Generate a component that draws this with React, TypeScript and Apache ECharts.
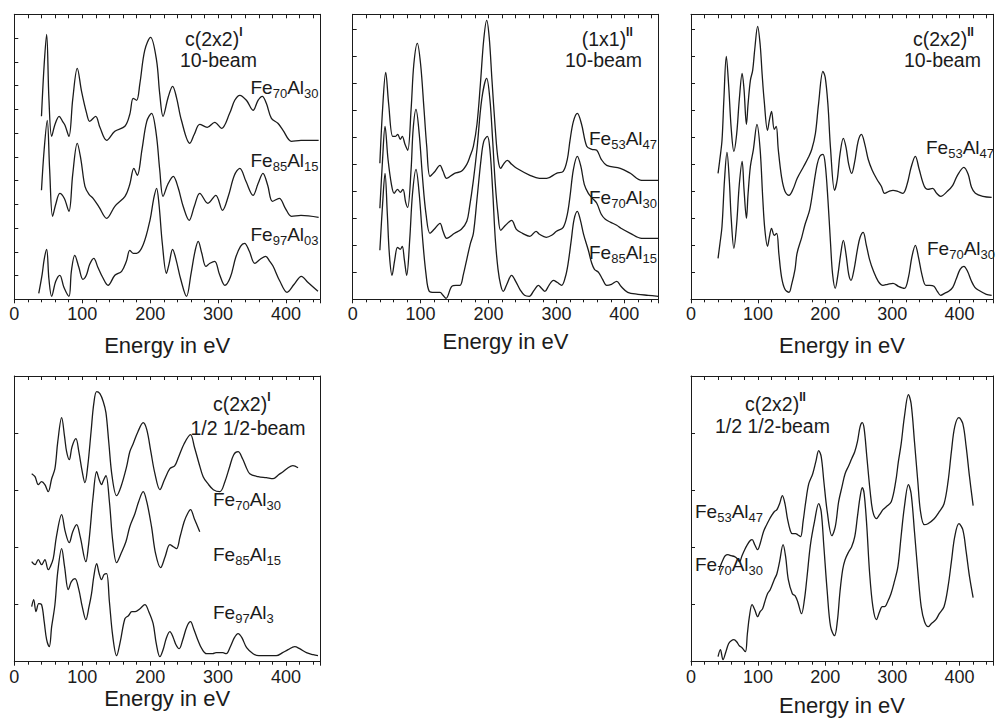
import React, { useEffect, useRef } from "react";
import * as echarts from "echarts";

// ---------- data: LEED I(V) curves, energy in eV vs intensity (arb. units, offset) ----------
const xTicks = [0, 100, 200, 300, 400];

// panel 1: c(2x2)^I, 10-beam
const p1Fe70Al30 = [[40,183],[44,235],[47.6,265],[51,200],[55,163],[60,175],[66,183],[71,178],[74.6,174],[80.4,163],[86,200],[92.7,231],[99,208],[106.5,186],[111,178],[119.7,183],[126,172],[135.9,159],[148,168],[162.8,173],[170,185],[175,201],[180,199],[184.9,216],[192,249],[200.6,262],[209.4,239],[214,206],[219,183],[226.5,202],[233,213],[238.7,202],[246,179],[258.4,156],[265,165],[273,175],[284,172],[295,177],[305,171],[317,186],[324.5,199],[332,204],[341.7,199],[351.5,189],[358.8,199],[365,203],[371,196],[378.5,181],[388,176],[395.6,169],[408,158],[422,159],[448,159]];
const p1Fe85Al15 = [[40,109],[44,150],[48.5,179],[52,130],[56.4,83],[61,95],[67,106],[73.5,101],[80.4,88],[86,125],[92.7,156],[98,140],[104,113],[110,105],[116,101],[125,92],[136,81],[148,93],[163,103],[170,115],[176,131],[181,124],[188,150],[195,178],[202,186],[209,165],[214,130],[219,103],[226,115],[234,123],[241,112],[249,92],[257.4,79],[265,93],[273,106],[285,96],[296.6,104],[306.5,89],[315,103],[324,124],[332,131],[341,118],[351.5,104],[359,116],[366,126],[373,114],[380,98],[390,101],[399,91],[408,83],[422,84],[448,82]];
const p1Fe97Al03 = [[36,6],[41,25],[44,40],[47.6,50],[51,20],[55,3],[61,18],[67,24],[73,12],[80.4,3],[84,28],[89,44],[95,32],[101,20],[106,24],[111,35],[117,41],[123,32],[130,22],[138,14],[148,24],[158,28],[165,38],[170,49],[175,46],[180,46],[190,55],[200,80],[205,100],[209.4,111],[213,95],[218,55],[224,26],[228,36],[233,50],[238,40],[245,20],[253.5,3],[260,25],[266,48],[270.7,58],[276,46],[282,33],[288,36],[295,38],[302,25],[310,14],[318,22],[326,42],[333,53],[339,56],[346,48],[354,36],[362,40],[370,43],[376,38],[381,33],[391,18],[401.5,7],[412,15],[422.6,23],[432,17],[447,8]];

// panel 2: (1x1)^II, 10-beam
const p2Fe53Al47 = [[40,136],[44,190],[48.6,227],[53,195],[58.9,163],[63,163],[66.3,165],[70,160],[73,163],[77,155],[81,149],[86,190],[90,235],[95.2,256],[100,235],[105,190],[109,153],[113.8,123],[120,127],[128.6,134],[133,128],[138.4,121],[150,126],[160,128],[168,135],[172.8,143],[177.7,153],[183,175],[188,215],[193,260],[197.3,279],[201,262],[205,220],[210,170],[214,140],[218,131],[222,135],[227.7,139],[234,135],[241.5,131],[261,124],[275,121],[285.7,121],[300,126],[310,128],[316,140],[320,159],[325,178],[330.8,186],[337,175],[344.6,153],[352,150],[359.4,149],[366,140],[374,134],[394,131],[408.8,126],[425.6,119],[450,119]];
const p2Fe70Al30 = [[40,91],[44,140],[47.6,173],[52,140],[57,115],[61,106],[66,110],[70,107],[74,110],[78,97],[81,92],[86,130],[89,170],[93.2,190],[98,165],[103,120],[108,85],[113.8,66],[120,70],[128.6,76],[133,68],[138.4,61],[150,66],[160,70],[168,78],[172,92],[177.7,119],[183,150],[190,200],[197.3,221],[202,200],[206,160],[210,115],[214,85],[218,69],[225,74],[234,79],[241,70],[250,66],[261,63],[270,68],[275,65],[285,62],[293,64],[300,68],[310,72],[316,85],[320,103],[325,130],[330.8,143],[336,133],[341,115],[347,106],[353,101],[359.4,96],[366,85],[372,80],[380,77],[388.8,74],[395,71],[408.8,66],[425.6,61],[450,61]];
const p2Fe85Al15 = [[40,49],[44,95],[47.6,126],[51,85],[54,45],[57.9,24],[62,40],[66,52],[70,50],[73,53],[76,40],[79.5,24],[84,60],[88,105],[93.2,130],[98,105],[103,60],[108,25],[112.8,8],[120,7],[128.6,7],[133,4],[137.4,1],[145.8,13],[152,14],[158,14],[163,25],[168,40],[173,55],[177.7,66],[183,100],[189,140],[193,158],[198.3,163],[202,150],[206,110],[210,60],[214,30],[218,14],[221.8,8],[227,15],[234,24],[240,18],[247,9],[253,4],[260,3],[267,9],[273.4,14],[278,11],[283,8],[289,14],[295.5,19],[301,17],[307.7,14],[313,22],[317,35],[322,60],[326,80],[330.8,88],[335,80],[340,65],[347,49],[352,36],[356,30],[362,27],[368,20],[374,14],[381,15],[388.8,18],[395,13],[405,7],[420,5],[435,4],[450,3]];

// panel 3: c(2x2)^II, 10-beam
const p3Fe53Al47 = [[40.3,126],[43,140],[46.2,159],[49,200],[52.6,243],[56,215],[60,170],[63.9,148],[68,165],[72,200],[76.2,226],[79,210],[82.6,175],[85,195],[88.5,219],[91.9,229],[95,250],[99.3,273],[103,255],[106,225],[109,199],[114,169],[117,180],[120,188],[124,170],[127,173],[130,150],[135,122],[140,108],[146,104],[152,110],[158.3,121],[168,133],[175,142],[180,150],[185.4,166],[190,195],[196.6,228],[200,222],[204,195],[208,150],[213.9,109],[218,120],[222,145],[227,161],[231,152],[235,135],[239.4,126],[244,138],[249,158],[254,165],[259,155],[264,140],[270,129],[277,120],[283.6,113],[288.5,106],[295,108],[301,109],[308,108],[315.7,106],[322,115],[328,132],[334.3,143],[340,130],[347.6,113],[353,110],[360,111],[366,106],[372,103],[382,108],[390,114],[397,124],[406.6,132],[413,125],[418,112],[423.7,106],[435,103],[448,102]];
const p3Fe70Al30 = [[40.3,41],[43,55],[46.2,73],[50,120],[53.6,147],[57,120],[60,80],[63.9,51],[68,75],[72,115],[76.2,138],[79,110],[82.6,81],[85,105],[88.5,133],[93,150],[98.3,175],[103,150],[107,100],[110,70],[114,53],[117,63],[120,71],[124,64],[127.7,66],[131,45],[135,22],[140,10],[146,7],[150,15],[155,30],[158,46],[165,62],[170,75],[177,90],[183,115],[188,135],[192,143],[196.6,145],[200,135],[204,100],[208,55],[211,25],[214.9,11],[219,25],[223,45],[227,59],[231,45],[235,25],[238.5,19],[243,30],[248,50],[252,62],[256.6,67],[261,55],[266,40],[272,28],[279,18],[286,14],[293,15],[301,16],[309,13],[318,11],[324,22],[329,42],[334.3,54],[339,42],[344,25],[350,14],[356,14],[362,13],[367,8],[372,4],[378,6],[384,8],[390,12],[395,20],[401,30],[406.6,33],[412,28],[418,18],[423,12],[428.7,9],[440,5],[448,4]];

// panel 4: c(2x2)^I, 1/2 1/2-beam
const p4Fe70Al30 = [[25.6,188],[30.5,185],[35.3,177],[40.2,180],[45,177],[50,170],[55,183],[59.8,193],[64,220],[69.7,244],[74,225],[77,210],[80.9,202],[85,215],[90.7,223],[95,210],[100,190],[104,179],[108,195],[113,230],[117,258],[121.2,270],[126,268],[131,260],[134.9,249],[139,220],[144,185],[150.6,166],[157,175],[165.3,195],[170,210],[175,218],[182,230],[189.7,239],[195,232],[201,210],[207,188],[214.3,172],[221,182],[229,193],[236.3,196],[242,205],[250,218],[259.4,227],[265,215],[272,198],[278,185],[285,178],[293,172],[302.5,170],[310,180],[317,195],[323,207],[329.4,210],[336,203],[341,195],[346.6,188],[359,185],[371,184],[381,183],[389,187],[395.6,190],[403,194],[410,196],[417.7,194]];
const p4Fe85Al15 = [[25.6,100],[30.5,97],[35.3,102],[40.2,97],[45,102],[50,92],[53,95],[57.3,103],[62,125],[69.7,147],[75,130],[80.9,119],[86,130],[91.7,137],[97,125],[105.4,100],[109,115],[112,135],[116,165],[121.2,190],[125,182],[128.5,177],[131,181],[134.9,186],[140,160],[145,120],[150.6,99],[157,108],[164.3,120],[170,135],[177.5,148],[183,160],[189.7,170],[195,160],[202,135],[208,108],[215.3,94],[222,105],[229,117],[234,115],[238.8,113],[244,125],[250,140],[255,148],[259.4,152],[265,143],[273,130]];
const p4Fe97Al3 = [[25.6,55],[28.5,62],[32,50],[36,58],[40.2,57],[44,40],[47.6,22],[51.5,15],[55,35],[59.8,57],[64,90],[69.7,113],[74,95],[79.5,72],[84,80],[89.3,83],[95,72],[100,55],[105.4,42],[110,55],[113.7,68],[117,85],[121.2,98],[125,88],[128.5,82],[132,87],[135.9,88],[140,60],[145,25],[150.6,6],[156,20],[162.8,43],[168,46],[173,50],[178,50],[185,53],[192.2,57],[198,50],[204.4,38],[209,18],[214.3,5],[219,12],[224,24],[229,30],[234,24],[238,17],[242.7,13],[248,22],[254,35],[259.4,40],[264,33],[270,22],[276,13],[283,8],[292,8],[297,9],[302.5,9],[307,9],[312,8],[318,15],[324,24],[329.4,28],[335,24],[342,14],[351.5,8],[360,6],[368.6,6],[377,6],[385.7,6],[395,9],[403,12],[412.8,15],[420,13],[430,9],[440,7],[447,6]];

// panel 5: c(2x2)^II, 1/2 1/2-beam
const p5Fe53Al47 = [[41.8,91],[44,96],[47.7,102],[51,106],[55,107],[60,106],[65,105],[69,103],[72.3,100],[76,106],[80,112],[84,117],[88,121],[91,122],[95,117],[99.3,112],[103,118],[108,130],[112,136],[116.5,142],[120,146],[124,150],[128,152],[132,158],[136.2,166],[140,158],[144,142],[148,131],[151,128],[155.8,128],[159,127],[163.2,125],[167,140],[171,160],[175.5,178],[181.4,188],[186,200],[190.3,211],[194,205],[198,180],[203,150],[209.9,126],[215,135],[220,160],[225,175],[229.6,188],[235,196],[239.4,203],[244,210],[248,220],[252,235],[255.2,239],[258,233],[262,205],[267,170],[271,150],[276.3,143],[281,147],[286,152],[291,155],[298.4,160],[305,180],[309,200],[313.2,218],[318,245],[324,267],[328,258],[333,220],[338,180],[342,150],[347.6,137],[353,138],[362.4,143],[370,150],[377.1,158],[383,180],[388,210],[393,235],[399.2,244],[405,238],[410,215],[415,185],[420.4,156]];
const p5Fe70Al30 = [[40.3,5],[43.8,12],[47.7,2],[52,10],[56,18],[60,21],[64,22],[68,20],[72,16],[76,14],[81,10],[84,28],[87,45],[91,57],[95,52],[99.3,45],[103,50],[106.7,53],[110,60],[114,68],[118,72],[124,82],[128,88],[132,100],[137.2,117],[141,105],[145,82],[151,68],[155,66],[159,60],[164.7,48],[169,62],[172.9,85],[178,117],[184,140],[190.3,158],[194,150],[198,115],[203,70],[208,35],[213.9,26],[218,40],[222,70],[226,92],[229.6,102],[235,110],[239.4,115],[244,125],[248,145],[252,165],[255.2,174],[258,168],[262,135],[266,90],[271,55],[276.3,42],[281,50],[285,55],[288.6,55],[293,60],[298,68],[303,80],[308.3,95],[313,125],[318,155],[324,177],[328,168],[333,130],[338,90],[343,55],[348,40],[353.5,35],[358,38],[364.8,42],[370,48],[377,55],[383,75],[388,100],[393,125],[399.2,138],[405,132],[410,110],[415,85],[420.4,64]];

// ---------- styling / layout ----------
const FONT = "'Liberation Sans', Arial, Helvetica, sans-serif";
const INK = "#1b1b1b";

type Label = { x: number; y: number; text: string };
type Panel = {
  rect: { left: number; top: number; width: number; height: number };
  yMax: number;
  yTick: number;
  nameGap: number;
  series: number[][][];
  labels: Label[];
};

const fm = (a: string, b: string) => `{m|Fe}{s|${a}}{m|Al}{s|${b}}`;

const panels: Panel[] = [
  {
    rect: { left: 14.3, top: 14.3, width: 305.7, height: 285 },
    yMax: 285, yTick: 23.75, nameGap: 35,
    series: [p1Fe70Al30, p1Fe85Al15, p1Fe97Al03],
    labels: [
      { x: 185, y: 39, text: "{c|c(2x2)}{p|I}" },
      { x: 180, y: 60, text: "{b|10-beam}" },
      { x: 250.5, y: 87, text: fm("70", "30") },
      { x: 250.5, y: 160, text: fm("85", "15") },
      { x: 250.5, y: 234, text: fm("97", "03") },
    ],
  },
  {
    rect: { left: 352.7, top: 14.3, width: 305.6, height: 285 },
    yMax: 285, yTick: 27, nameGap: 31,
    series: [p2Fe53Al47, p2Fe70Al30, p2Fe85Al15],
    labels: [
      { x: 581.7, y: 39, text: "{c|(1x1)}{p|II}" },
      { x: 565, y: 60, text: "{b|10-beam}" },
      { x: 589, y: 138, text: fm("53", "47") },
      { x: 589, y: 197, text: fm("70", "30") },
      { x: 589, y: 252, text: fm("85", "15") },
    ],
  },
  {
    rect: { left: 691, top: 14.3, width: 304.5, height: 285 },
    yMax: 285, yTick: 27, nameGap: 35,
    series: [p3Fe53Al47, p3Fe70Al30],
    labels: [
      { x: 913, y: 39, text: "{c|c(2x2)}{p|II}" },
      { x: 904, y: 60, text: "{b|10-beam}" },
      { x: 926, y: 147, text: fm("53", "47") },
      { x: 927, y: 248, text: fm("70", "30") },
    ],
  },
  {
    rect: { left: 14.3, top: 376, width: 305.7, height: 285.7 },
    yMax: 285.7, yTick: 57, nameGap: 26,
    series: [p4Fe70Al30, p4Fe85Al15, p4Fe97Al3],
    labels: [
      { x: 213, y: 404, text: "{c|c(2x2)}{p|I}" },
      { x: 190.5, y: 428, text: "{b|1/2 1/2-beam}" },
      { x: 213, y: 499, text: fm("70", "30") },
      { x: 213, y: 554, text: fm("85", "15") },
      { x: 213, y: 612, text: "{m|Fe}{s|97}{m|Al}{s|3}" },
    ],
  },
  {
    rect: { left: 691, top: 376, width: 304.5, height: 285.7 },
    yMax: 285.7, yTick: 57, nameGap: 33,
    series: [p5Fe53Al47, p5Fe70Al30],
    labels: [
      { x: 745, y: 404, text: "{c|c(2x2)}{p|II}" },
      { x: 715, y: 426, text: "{b|1/2 1/2-beam}" },
      { x: 695, y: 511, text: fm("53", "47") },
      { x: 695, y: 564, text: fm("70", "30") },
    ],
  },
];

const rich = {
  m: { fontSize: 19, fontFamily: FONT, fill: INK, lineHeight: 26 },
  b: { fontSize: 19.5, fontFamily: FONT, fill: INK, lineHeight: 22 },
  c: { fontSize: 19.5, fontFamily: FONT, fill: INK, lineHeight: 26 },
  s: { fontSize: 13, fontFamily: FONT, fill: INK, lineHeight: 13, verticalAlign: "bottom" },
  p: { fontSize: 12, fontFamily: FONT, fontWeight: "bold", fill: INK, lineHeight: 13, verticalAlign: "top" },
};

function buildOption() {
  const grid: any[] = [];
  const xAxis: any[] = [];
  const yAxis: any[] = [];
  const series: any[] = [];
  const graphic: any[] = [];

  panels.forEach((p, i) => {
    grid.push({ ...p.rect, containLabel: false });
    // bottom axis (labelled)
    xAxis.push({
      gridIndex: i, type: "value", position: "bottom", min: 0, max: 450, interval: 100,
      axisLine: { show: true, onZero: false, lineStyle: { color: INK, width: 1 } },
      axisTick: { show: true, inside: false, length: 4, lineStyle: { color: INK, width: 1 } },
      minorTick: { show: true, splitNumber: 5, length: 3, lineStyle: { color: INK, width: 1 } },
      splitLine: { show: false },
      axisLabel: {
        show: true, margin: 6, fontSize: 18, color: INK, fontFamily: FONT,
        formatter: (v: number) => (xTicks.indexOf(v) >= 0 ? String(v) : ""),
      },
      name: "Energy in eV", nameLocation: "middle", nameGap: p.nameGap,
      nameTextStyle: { fontSize: 22, color: INK, fontFamily: FONT },
    });
    // top mirror axis
    xAxis.push({
      gridIndex: i, type: "value", position: "top", min: 0, max: 450, interval: 20,
      axisLine: { show: true, onZero: false, lineStyle: { color: INK, width: 1 } },
      axisTick: { show: true, inside: true, length: 4, lineStyle: { color: INK, width: 1 } },
      axisLabel: { show: false }, splitLine: { show: false },
    });
    yAxis.push({
      gridIndex: i, type: "value", position: "left", min: 0, max: p.yMax, interval: p.yTick,
      axisLine: { show: true, onZero: false, lineStyle: { color: INK, width: 1 } },
      axisTick: { show: true, inside: true, length: 4, lineStyle: { color: INK, width: 1 } },
      axisLabel: { show: false }, splitLine: { show: false },
    });
    yAxis.push({
      gridIndex: i, type: "value", position: "right", min: 0, max: p.yMax,
      axisLine: { show: true, onZero: false, lineStyle: { color: INK, width: 1 } },
      axisTick: { show: false }, axisLabel: { show: false }, splitLine: { show: false },
    });
    p.series.forEach((d) => {
      series.push({
        type: "line", xAxisIndex: 2 * i, yAxisIndex: 2 * i, data: d,
        symbol: "none", showSymbol: false, smooth: 0.35, clip: true,
        lineStyle: { color: INK, width: 1.3 }, silent: true,
      });
    });
    p.labels.forEach((l) => {
      graphic.push({
        type: "text", x: l.x, y: l.y, silent: true,
        style: { text: l.text, rich, align: "left", verticalAlign: "middle", fill: INK, fontFamily: FONT, fontSize: 19 },
      });
    });
  });

  return { animation: false, backgroundColor: "#ffffff", grid, xAxis, yAxis, series, graphic };
}

export default function App() {
  const ref = useRef<HTMLDivElement>(null);
  useEffect(() => {
    if (!ref.current) return;
    const chart = echarts.init(ref.current, undefined, { renderer: "svg" });
    chart.setOption(buildOption() as any);
    return () => chart.dispose();
  }, []);
  return (
    <div
      ref={ref}
      style={{ position: "absolute", left: 0, top: 0, width: 996, height: 719, background: "#fff" }}
    />
  );
}
